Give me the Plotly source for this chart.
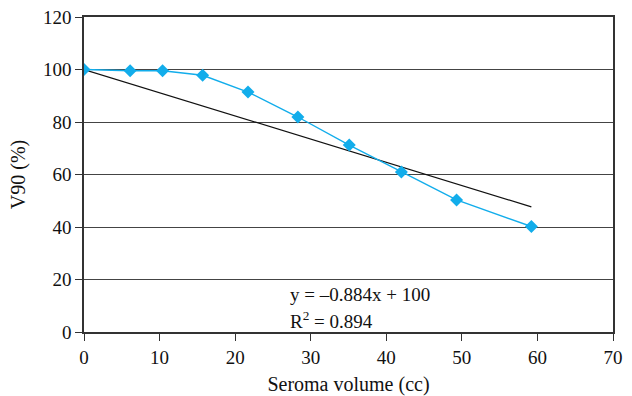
import plotly.graph_objects as go

seroma_cc = [0, 6.1, 10.4, 15.7, 21.7, 28.3, 35.1, 42.0, 49.3, 59.2]
v90_pct = [100, 99.5, 99.5, 97.8, 91.4, 81.9, 71.2, 61.0, 50.3, 40.2]
slope = -0.884
intercept = 100
x_ticks = [0, 10, 20, 30, 40, 50, 60, 70]
y_ticks = [0, 20, 40, 60, 80, 100, 120]

trend_x = [seroma_cc[0], seroma_cc[-1]]
trend_y = [slope * v + intercept for v in trend_x]

FONT = "Liberation Serif"

fig = go.Figure()
fig.add_trace(go.Scatter(x=trend_x, y=trend_y, mode="lines",
                         line=dict(color="#111111", width=1.2), showlegend=False))
fig.add_trace(go.Scatter(x=seroma_cc, y=v90_pct, mode="lines+markers",
                         line=dict(color="#12ADEB", width=1.4),
                         marker=dict(symbol="diamond", size=10, color="#12ADEB"),
                         showlegend=False))

fig.add_annotation(x=27.0, y=14.2, xref="x", yref="y", xanchor="left", yanchor="middle",
                   text="y = –0.884x + 100", showarrow=False,
                   font=dict(family=FONT, size=19, color="#111"))
fig.add_annotation(x=27.0, y=4.4, xref="x", yref="y", xanchor="left", yanchor="middle",
                   text="R<sup>2</sup> = 0.894", showarrow=False,
                   font=dict(family=FONT, size=19, color="#111"))

fig.update_xaxes(range=[0, 70], tickvals=x_ticks, ticks="outside", ticklen=7,
                 tickcolor="#333", tickwidth=1.3, showline=True, linecolor="#333",
                 linewidth=1.5, mirror=True, showgrid=False, zeroline=False,
                 automargin=False,
                 tickfont=dict(family=FONT, size=19, color="#111"),
                 title=dict(text="Seroma volume (cc)", standoff=10,
                            font=dict(family=FONT, size=20, color="#111")))
fig.update_yaxes(range=[0, 120], tickvals=y_ticks, ticks="outside", ticklen=7,
                 tickcolor="#333", tickwidth=1.3, showline=True, linecolor="#333",
                 linewidth=1.5, mirror=True, showgrid=True, gridcolor="#444",
                 gridwidth=1.2, zeroline=False, automargin=False,
                 tickfont=dict(family=FONT, size=19, color="#111"),
                 title=dict(text="V90 (%)", standoff=12,
                            font=dict(family=FONT, size=20, color="#111")))

fig.update_layout(width=632, height=396, margin=dict(l=84, r=19, t=17, b=64),
                  paper_bgcolor="white", plot_bgcolor="white")

fig.write_html("out.html")
